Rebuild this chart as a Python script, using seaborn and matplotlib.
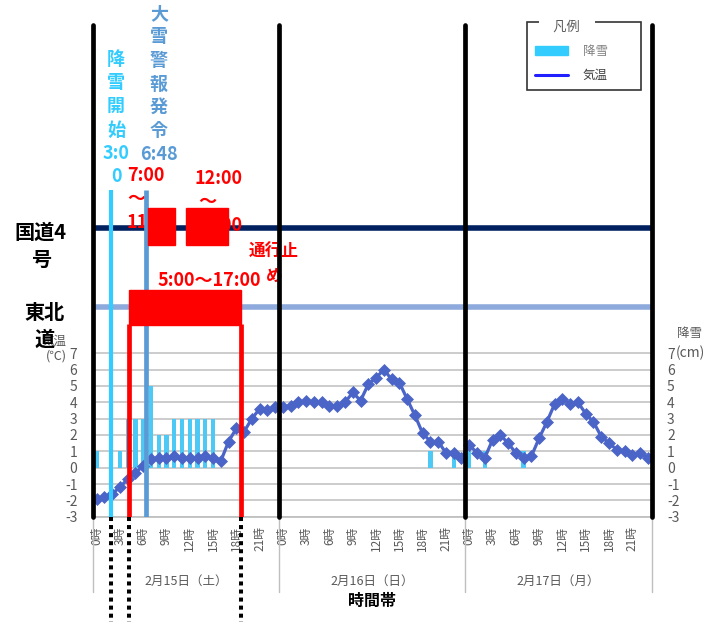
import numpy as np
import matplotlib.pyplot as plt
import seaborn as sns
from matplotlib.patches import Patch, Rectangle
from matplotlib.lines import Line2D

# hourly data, 2/15 0時 .. 2/17 23時
hours = np.arange(72)
temperature = [-1.9, -1.8, -1.6, -1.2, -0.7, -0.3, 0.1, 0.5, 0.6, 0.6, 0.7, 0.6,
               0.6, 0.6, 0.7, 0.6, 0.4, 1.6, 2.4, 2.2, 3.0, 3.6, 3.5, 3.7,
               3.7, 3.8, 4.0, 4.1, 4.0, 4.0, 3.8, 3.8, 4.0, 4.6, 4.1, 5.1,
               5.5, 6.0, 5.4, 5.2, 4.2, 3.2, 2.1, 1.6, 1.6, 0.9, 0.9, 0.6,
               1.4, 0.9, 0.6, 1.7, 2.0, 1.5, 0.9, 0.6, 0.7, 1.8, 2.8, 3.9,
               4.2, 3.9, 4.0, 3.3, 2.8, 1.9, 1.5, 1.1, 1.0, 0.8, 0.9, 0.6]
snowfall = [1, 0, 0, 1, 3, 3, 3, 5, 2, 2, 3, 3, 3, 3, 3, 3, 0, 0, 0, 0, 0, 0, 0, 0,
            0, 0, 0, 0, 0, 0, 0, 0, 0, 0, 0, 0, 0, 0, 0, 0, 0, 0, 0, 1, 0, 0, 1, 0,
            1, 0, 1, 0, 0, 0, 0, 1, 0, 0, 0, 0, 0, 0, 0, 0, 0, 0, 0, 0, 0, 0, 0, 0]
day_labels = ['2月15日（土）', '2月16日（日）', '2月17日（月）']
tick_hours = hours[::3]
tick_labels = [f'{h % 24}時' for h in tick_hours]

# events (hour positions as drawn on the chart)
snow_start = 1.9
warning = 6.36
tohoku_closed = (4.2, 18.55)
route4_closed = [(6.65, 10.1), (11.5, 16.9)]

sns.set_theme(style='white')
plt.rcParams['font.family'] = ['Noto Sans CJK JP', 'DejaVu Sans']
plt.rcParams['axes.unicode_minus'] = False

RED = '#FF0000'
CYAN = '#33CCFF'
BLUE = '#5B9BD5'
GRAY = '#595959'

fig = plt.figure(figsize=(7.2, 6.24), dpi=100)
ax = fig.add_axes([92.7 / 720, 1 - 516.7 / 624, 559 / 720, (516.7 - 25) / 624])
tf = fig.transFigure


def fp(x, y):
    return x / 720, 1 - y / 624


sns.barplot(x=hours, y=snowfall, native_scale=True, color='#4DC9F6', width=0.55,
            errorbar=None, linewidth=0, saturation=1, ax=ax, zorder=2)
sns.lineplot(x=hours, y=temperature, color='#4A64C8', marker='D', markersize=6.3,
             linewidth=2.3, markeredgecolor='#4A64C8', markeredgewidth=0.5,
             ax=ax, zorder=3)

ax.set_xlim(-0.5, 71.5)
ax.set_ylim(-3, 27.08)
ax.set_yticks(range(-3, 8))
ax.yaxis.grid(True, color='#BFBFBF', linewidth=1.1)
ax.xaxis.grid(False)
ax.set_axisbelow(True)
ax.tick_params(axis='y', labelleft=True, labelright=True, left=False, right=False,
               labelsize=10, labelcolor=GRAY, pad=5)
ax.set_xticks(tick_hours)
ax.set_xticklabels(tick_labels, rotation=90, fontsize=8.5, color=GRAY)
ax.tick_params(axis='x', length=0, pad=7)
ax.set_xlabel('')
ax.set_ylabel('')
for s in ['left', 'right', 'top']:
    ax.spines[s].set_visible(False)
ax.spines['bottom'].set_color('#BFBFBF')

# day boundaries
for b in [-0.5, 23.5, 47.5, 71.5]:
    ax.axvline(b, color='black', lw=3.4, zorder=8, clip_on=False)
    ax.plot([b, b], [-3, -7.6], color='#BFBFBF', lw=1, clip_on=False)
for i, lab in enumerate(day_labels):
    ax.text(11.5 + 24 * i, -6.96, lab, ha='center', va='center', fontsize=9,
            color=GRAY, clip_on=False)
ax.text(35.5, -8.15, '時間帯', ha='center', va='center', fontsize=11.5,
        fontweight='bold', color='black', clip_on=False)

# road lines
ax.hlines(14.68, -0.5, 71.5, color='#002060', lw=4, zorder=4)
ax.hlines(9.85, -0.5, 71.5, color='#8EA9DB', lw=4, zorder=4)

# event lines
ax.vlines(snow_start, -3, 17, color=CYAN, lw=3, zorder=6)
ax.vlines(warning, -3, 17, color=BLUE, lw=3.4, zorder=6)
for x in tohoku_closed:
    ax.vlines(x, -3, 8.8, color=RED, lw=3.4, zorder=6)
for x in [snow_start, tohoku_closed[0], tohoku_closed[1]]:
    ax.plot([x, x], [-3, -9.43], color='black', lw=2.9, ls=(0, (1, 1)),
            clip_on=False, zorder=6)

# closure boxes
for x0, x1 in route4_closed:
    ax.add_patch(Rectangle((x0, 13.62), x1 - x0, 15.87 - 13.62, color=RED, zorder=7))
ax.add_patch(Rectangle((tohoku_closed[0], 8.73), tohoku_closed[1] - tohoku_closed[0],
                       10.87 - 8.73, color=RED, zorder=7))

# annotations
ax.text(*fp(116, 50), '降\n雪\n開\n始\n3:0\n0', transform=tf, ha='center', va='top',
        fontsize=13, fontweight='bold', color=CYAN, linespacing=1.3, zorder=5)
ax.text(*fp(159, 4), '大\n雪\n警\n報\n発\n令\n6:48', transform=tf, ha='center', va='top',
        fontsize=13, fontweight='bold', color=BLUE, linespacing=1.3, zorder=5)
ax.text(*fp(127, 166), '7:00\n〜\n11:00', transform=tf, ha='left', va='top',
        fontsize=13, fontweight='bold', color=RED, linespacing=1.3, zorder=5)
ax.text(*fp(195, 169), '12:00\n 〜\n17:00', transform=tf, ha='left', va='top',
        fontsize=13, fontweight='bold', color=RED, linespacing=1.3, zorder=5)
ax.text(*fp(274, 264), '通行止\nめ', transform=tf, ha='center', va='center',
        fontsize=12, fontweight='bold', color=RED, linespacing=1.4, zorder=5)
ax.text(*fp(157, 280), '5:00〜17:00', transform=tf, ha='left', va='center',
        fontsize=13, fontweight='bold', color=RED, zorder=5)
ax.text(*fp(41, 246), '国道4\n号', transform=tf, ha='center', va='center',
        fontsize=14.5, fontweight='bold', color='black', linespacing=1.35)
ax.text(*fp(67, 349), '気温\n(℃)', transform=tf, ha='right', va='center',
        fontsize=9, color=GRAY, multialignment='right', linespacing=1.2)
ax.text(*fp(45, 326), '東北\n道', transform=tf, ha='center', va='center',
        fontsize=14.5, fontweight='bold', color='black', linespacing=1.35)
ax.text(*fp(677, 334), '降雪', transform=tf, ha='left', va='center',
        fontsize=9, color=GRAY)
ax.text(*fp(676, 352.5), '(cm)', transform=tf, ha='left', va='center',
        fontsize=10, color=GRAY)

# legend
handles = [Patch(color=CYAN), Line2D([], [], color='#2020FF', lw=2.2)]
leg = fig.legend(handles, ['降雪', '気温'], loc='upper left',
                 bbox_to_anchor=(527 / 720, 1 - 22 / 624, 114 / 720, 0.0),
                 mode='expand', borderaxespad=0, title=' ', title_fontsize=2,
                 frameon=True, fancybox=False, fontsize=9, handlelength=2.65,
                 handletextpad=1.2, borderpad=0.6, labelspacing=0.9)
leg.get_frame().set_edgecolor('black')
leg.get_frame().set_linewidth(1.2)
leg.get_texts()[0].set_color('#808080')
leg.get_texts()[1].set_color('#404040')
fig.text(*fp(567, 27.5), '\u3000凡例\u3000', ha='center', va='center', fontsize=9.5,
         color=GRAY, zorder=10,
         bbox=dict(boxstyle='square,pad=0.1', facecolor='white', edgecolor='none'))

fig.savefig('out.png', dpi=100)
